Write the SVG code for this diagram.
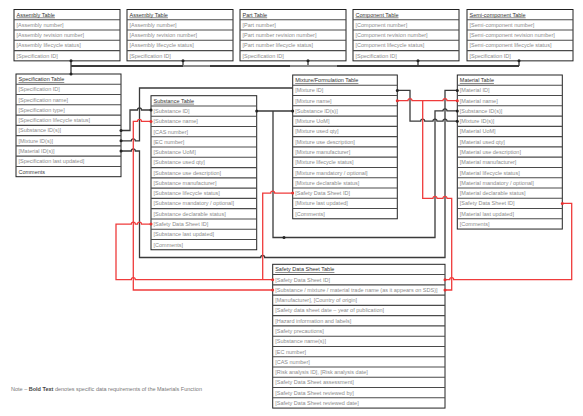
<svg xmlns="http://www.w3.org/2000/svg" width="583" height="416" viewBox="0 0 583 416">
<style>
.t{font-family:"Liberation Sans",Arial,sans-serif;font-size:5.5px;fill:#8c8c8c}
.h{fill:#333;text-decoration:underline}
.k{fill:#444}
.box{fill:#fff;stroke:#222;stroke-width:1}
.row{fill:none;stroke:#4a4a4a;stroke-width:1.1}
.c{fill:none;stroke:#3a3a3a;stroke-width:1.3}
.cl{fill:none;stroke:#8a8a8a;stroke-width:1.8}
.r{fill:none;stroke:#ef3b3b;stroke-width:1.3}
.d{fill:#222}
.dr{fill:#e53030}
</style>
<rect width="583" height="416" fill="#fff"/>

<g id="assembly1" transform="translate(14,9.5)">
<rect class="box" width="106" height="51.35"/>
<path class="row" d="M0,10.27H106M0,20.54H106M0,30.81H106M0,41.08H106"/>
<text class="t h" x="2.5" y="7.1">Assembly Table</text>
<text class="t" x="2.5" y="17.37">[Assembly number]</text>
<text class="t" x="2.5" y="27.64">[Assembly revision number]</text>
<text class="t" x="2.5" y="37.91">[Assembly lifecycle status]</text>
<text class="t" x="2.5" y="48.18">[Specification ID]</text>
</g>

<g id="assembly2" transform="translate(127,9.5)">
<rect class="box" width="106" height="51.35"/>
<path class="row" d="M0,10.27H106M0,20.54H106M0,30.81H106M0,41.08H106"/>
<text class="t h" x="2.5" y="7.1">Assembly Table</text>
<text class="t" x="2.5" y="17.37">[Assembly number]</text>
<text class="t" x="2.5" y="27.64">[Assembly revision number]</text>
<text class="t" x="2.5" y="37.91">[Assembly lifecycle status]</text>
<text class="t" x="2.5" y="48.18">[Specification ID]</text>
</g>

<g id="part" transform="translate(240,9.5)">
<rect class="box" width="106" height="51.35"/>
<path class="row" d="M0,10.27H106M0,20.54H106M0,30.81H106M0,41.08H106"/>
<text class="t h" x="2.5" y="7.1">Part Table</text>
<text class="t" x="2.5" y="17.37">[Part number]</text>
<text class="t" x="2.5" y="27.64">[Part number revision number]</text>
<text class="t" x="2.5" y="37.91">[Part number lifecycle status]</text>
<text class="t" x="2.5" y="48.18">[Specification ID]</text>
</g>

<g id="component" transform="translate(353,9.5)">
<rect class="box" width="106" height="51.35"/>
<path class="row" d="M0,10.27H106M0,20.54H106M0,30.81H106M0,41.08H106"/>
<text class="t h" x="2.5" y="7.1">Component Table</text>
<text class="t" x="2.5" y="17.37">[Component number]</text>
<text class="t" x="2.5" y="27.64">[Component revision number]</text>
<text class="t" x="2.5" y="37.91">[Component lifecycle status]</text>
<text class="t" x="2.5" y="48.18">[Specification ID]</text>
</g>

<g id="semicomponent" transform="translate(467,9.5)">
<rect class="box" width="106" height="51.35"/>
<path class="row" d="M0,10.27H106M0,20.54H106M0,30.81H106M0,41.08H106"/>
<text class="t h" x="2.5" y="7.1">Semi-component Table</text>
<text class="t" x="2.5" y="17.37">[Semi-component number]</text>
<text class="t" x="2.5" y="27.64">[Semi-component revision number]</text>
<text class="t" x="2.5" y="37.91">[Semi-component lifecycle status]</text>
<text class="t" x="2.5" y="48.18">[Specification ID]</text>
</g>

<g id="specification" transform="translate(16,74)">
<rect class="box" width="105" height="102.7"/>
<path class="row" d="M0,10.27H105M0,20.54H105M0,30.81H105M0,41.08H105M0,51.35H105M0,61.62H105M0,71.89H105M0,82.16H105M0,92.43H105"/>
<text class="t h" x="2.5" y="7.1">Specification Table</text>
<text class="t" x="2.5" y="17.37">[Specification ID]</text>
<text class="t" x="2.5" y="27.64">[Specification name]</text>
<text class="t" x="2.5" y="37.91">[Specification type]</text>
<text class="t" x="2.5" y="48.18">[Specification lifecycle status]</text>
<text class="t" x="2.5" y="58.45">[Substance ID(s)]</text>
<text class="t" x="2.5" y="68.72">[Mixture ID(s)]</text>
<text class="t" x="2.5" y="78.99">[Material ID(s)]</text>
<text class="t" x="2.5" y="89.26">[Specification last updated]</text>
<text class="t k" x="2.5" y="99.53">Comments</text>
</g>

<g id="substance" transform="translate(151,95.7)">
<rect class="box" width="105.7" height="154.05"/>
<path class="row" d="M0,10.27H105.7M0,20.54H105.7M0,30.81H105.7M0,41.08H105.7M0,51.35H105.7M0,61.62H105.7M0,71.89H105.7M0,82.16H105.7M0,92.43H105.7M0,102.7H105.7M0,112.97H105.7M0,123.24H105.7M0,133.51H105.7M0,143.78H105.7"/>
<text class="t h" x="2.5" y="7.1">Substance Table</text>
<text class="t" x="2.5" y="17.37">[Substance ID]</text>
<text class="t" x="2.5" y="27.64">[Substance name]</text>
<text class="t" x="2.5" y="37.91">[CAS number]</text>
<text class="t" x="2.5" y="48.18">[EC number]</text>
<text class="t" x="2.5" y="58.45">[Substance UoM]</text>
<text class="t" x="2.5" y="68.72">[Substance used qty]</text>
<text class="t" x="2.5" y="78.99">[Substance use description]</text>
<text class="t" x="2.5" y="89.26">[Substance manufacturer]</text>
<text class="t" x="2.5" y="99.53">[Substance lifecycle status]</text>
<text class="t" x="2.5" y="109.8">[Substance mandatory / optional]</text>
<text class="t" x="2.5" y="120.07">[Substance declarable status]</text>
<text class="t" x="2.5" y="130.34">[Safety Data Sheet ID]</text>
<text class="t" x="2.5" y="140.61">[Substance last updated]</text>
<text class="t" x="2.5" y="150.88">[Comments]</text>
</g>

<g id="mixture" transform="translate(292.7,75)">
<rect class="box" width="104.6" height="143.78"/>
<path class="row" d="M0,10.27H104.6M0,20.54H104.6M0,30.81H104.6M0,41.08H104.6M0,51.35H104.6M0,61.62H104.6M0,71.89H104.6M0,82.16H104.6M0,92.43H104.6M0,102.7H104.6M0,112.97H104.6M0,123.24H104.6M0,133.51H104.6"/>
<text class="t h" x="2.5" y="7.1">Mixture/Formulation Table</text>
<text class="t" x="2.5" y="17.37">[Mixture ID]</text>
<text class="t" x="2.5" y="27.64">[Mixture name]</text>
<text class="t" x="2.5" y="37.91">[Substance ID(s)]</text>
<text class="t" x="2.5" y="48.18">[Mixture UoM]</text>
<text class="t" x="2.5" y="58.45">[Mixture used qty]</text>
<text class="t" x="2.5" y="68.72">[Mixture use description]</text>
<text class="t" x="2.5" y="78.99">[Mixture manufacturer]</text>
<text class="t" x="2.5" y="89.26">[Mixture lifecycle status]</text>
<text class="t" x="2.5" y="99.53">[Mixture mandatory / optional]</text>
<text class="t" x="2.5" y="109.8">[Mixture declarable status]</text>
<text class="t" x="2.5" y="120.07">[Safety Data Sheet ID]</text>
<text class="t" x="2.5" y="130.34">[Mixture last updated]</text>
<text class="t" x="2.5" y="140.61">[Comments]</text>
</g>

<g id="material" transform="translate(457.3,75)">
<rect class="box" width="105" height="154.05"/>
<path class="row" d="M0,10.27H105M0,20.54H105M0,30.81H105M0,41.08H105M0,51.35H105M0,61.62H105M0,71.89H105M0,82.16H105M0,92.43H105M0,102.7H105M0,112.97H105M0,123.24H105M0,133.51H105M0,143.78H105"/>
<text class="t h" x="2.5" y="7.1">Material Table</text>
<text class="t" x="2.5" y="17.37">[Material ID]</text>
<text class="t" x="2.5" y="27.64">[Material name]</text>
<text class="t" x="2.5" y="37.91">[Substance ID(s)]</text>
<text class="t" x="2.5" y="48.18">[Mixture ID(s)]</text>
<text class="t" x="2.5" y="58.45">[Material UoM]</text>
<text class="t" x="2.5" y="68.72">[Material used qty]</text>
<text class="t" x="2.5" y="78.99">[Material use description]</text>
<text class="t" x="2.5" y="89.26">[Material manufacturer]</text>
<text class="t" x="2.5" y="99.53">[Material lifecycle status]</text>
<text class="t" x="2.5" y="109.8">[Material mandatory / optional]</text>
<text class="t" x="2.5" y="120.07">[Material declarable status]</text>
<text class="t" x="2.5" y="130.34">[Safety Data Sheet ID]</text>
<text class="t" x="2.5" y="140.61">[Material last updated]</text>
<text class="t" x="2.5" y="150.88">[Comments]</text>
</g>

<g id="sds" transform="translate(272.7,264.3)">
<rect class="box" width="172.3" height="143.78"/>
<path class="row" d="M0,10.27H172.3M0,20.54H172.3M0,30.81H172.3M0,41.08H172.3M0,51.35H172.3M0,61.62H172.3M0,71.89H172.3M0,82.16H172.3M0,92.43H172.3M0,102.7H172.3M0,112.97H172.3M0,123.24H172.3M0,133.51H172.3"/>
<text class="t h" x="2.5" y="7.1">Safety Data Sheet Table</text>
<text class="t" x="2.5" y="17.37">[Safety Data Sheet ID]</text>
<text class="t" x="2.5" y="27.64">[Substance / mixture / material trade name (as it appears on SDS)]</text>
<text class="t" x="2.5" y="37.91">[Manufacturer], [Country of origin]</text>
<text class="t" x="2.5" y="48.18">[Safety data sheet date – year of publication]</text>
<text class="t" x="2.5" y="58.45">[Hazard information and labels]</text>
<text class="t" x="2.5" y="68.72">[Safety precautions]</text>
<text class="t" x="2.5" y="78.99">[Substance name(s)]</text>
<text class="t" x="2.5" y="89.26">[EC number]</text>
<text class="t" x="2.5" y="99.53">[CAS number]</text>
<text class="t" x="2.5" y="109.8">[Risk analysis ID], [Risk analysis date]</text>
<text class="t" x="2.5" y="120.07">[Safety Data Sheet assessment]</text>
<text class="t" x="2.5" y="130.34">[Safety Data Sheet reviewed by]</text>
<text class="t" x="2.5" y="140.61">[Safety Data Sheet reviewed date]</text>
</g>

<g id="connectors">
<path class="c" d="M71,60.85V74M183,60.85V66M308,60.85V66M418,60.85V66M519,60.85V66"/>
<path class="c" style="stroke-width:1.8" d="M71,66H519"/>
<path class="cl" d="M183,66H210M290,66H337"/>
<path class="c" d="M121,130.5H130V110H137.5a2,2 0 0 1 4,0H151"/>
<path class="c" d="M121,140.8H131.3a2,2 0 0 1 4,0H139.5V88H292.7"/>
<path class="c" d="M121,151H131.3a2,2 0 0 1 4,0H139.5V257.5H260.7a2,2 0 0 1 4,0H445V90.4H457.3"/>
<path class="c" d="M256.7,111H292.7M273,111V237.5H435V110.9H443a2,2 0 0 1 4,0H457.3"/>
<path class="c" d="M397.3,90.4H410V121.2H420.7a2,2 0 0 1 4,0H433a2,2 0 0 1 4,0H443a2,2 0 0 1 4,0H457.3"/>
<path class="r" d="M397.3,100.7H408a2,2 0 0 1 4,0H443a2,2 0 0 1 4,0H457.3M422.7,100.7V198.3H433a2,2 0 0 1 4,0H443a2,2 0 0 1 4,0H451.7V290H445"/>
<path class="r" d="M445,279.7H449.7a2,2 0 0 1 4,0H571.7V203.4H562.3"/>
<path class="r" d="M151,121.4H141.5a2,2 0 0 0 -4,0H133.3V290H272.7"/>
<path class="r" d="M151,224.1H141.5a2,2 0 0 0 -4,0H135.3a2,2 0 0 0 -4,0H116V279.7H131.3a2,2 0 0 1 4,0H272.7"/>
<path class="r" d="M292.7,193.1H274.7a2,2 0 0 0 -4,0H262.7V279.7"/>
<circle class="d" cx="71" cy="60.85" r="1.5"/>
<circle class="d" cx="71" cy="74" r="1.5"/>
<circle class="d" cx="183" cy="60.85" r="1.5"/>
<circle class="d" cx="308" cy="60.85" r="1.5"/>
<circle class="d" cx="418" cy="60.85" r="1.5"/>
<circle class="d" cx="519" cy="60.85" r="1.5"/>
<circle class="d" cx="121" cy="130.5" r="1.5"/>
<circle class="d" cx="121" cy="140.8" r="1.5"/>
<circle class="d" cx="121" cy="151" r="1.5"/>
<circle class="d" cx="151" cy="110" r="1.5"/>
<circle class="d" cx="256.7" cy="111" r="1.5"/>
<circle class="d" cx="292.7" cy="111" r="1.5"/>
<circle class="d" cx="284" cy="237.5" r="1.5"/>
<circle class="d" cx="397.3" cy="90.4" r="1.5"/>
<circle class="d" cx="457.3" cy="90.4" r="1.5"/>
<circle class="d" cx="457.3" cy="110.9" r="1.5"/>
<circle class="d" cx="457.3" cy="121.2" r="1.5"/>
<circle class="dr" cx="397.3" cy="100.7" r="1.5"/>
<circle class="dr" cx="457.3" cy="100.7" r="1.5"/>
<circle class="dr" cx="151" cy="121.4" r="1.5"/>
<circle class="dr" cx="151" cy="224.1" r="1.5"/>
<circle class="dr" cx="292.7" cy="193.1" r="1.5"/>
<circle class="dr" cx="562.3" cy="203.4" r="1.5"/>
<circle class="dr" cx="272.7" cy="279.7" r="1.5"/>
<circle class="dr" cx="272.7" cy="290" r="1.5"/>
<circle class="dr" cx="445" cy="279.7" r="1.5"/>
<circle class="dr" cx="445" cy="290" r="1.5"/>
</g>

<text class="t" x="11" y="391" style="fill:#777">Note – <tspan style="font-weight:bold;fill:#444">Bold Text</tspan> denotes specific data requirements of the Materials Function</text>
</svg>
